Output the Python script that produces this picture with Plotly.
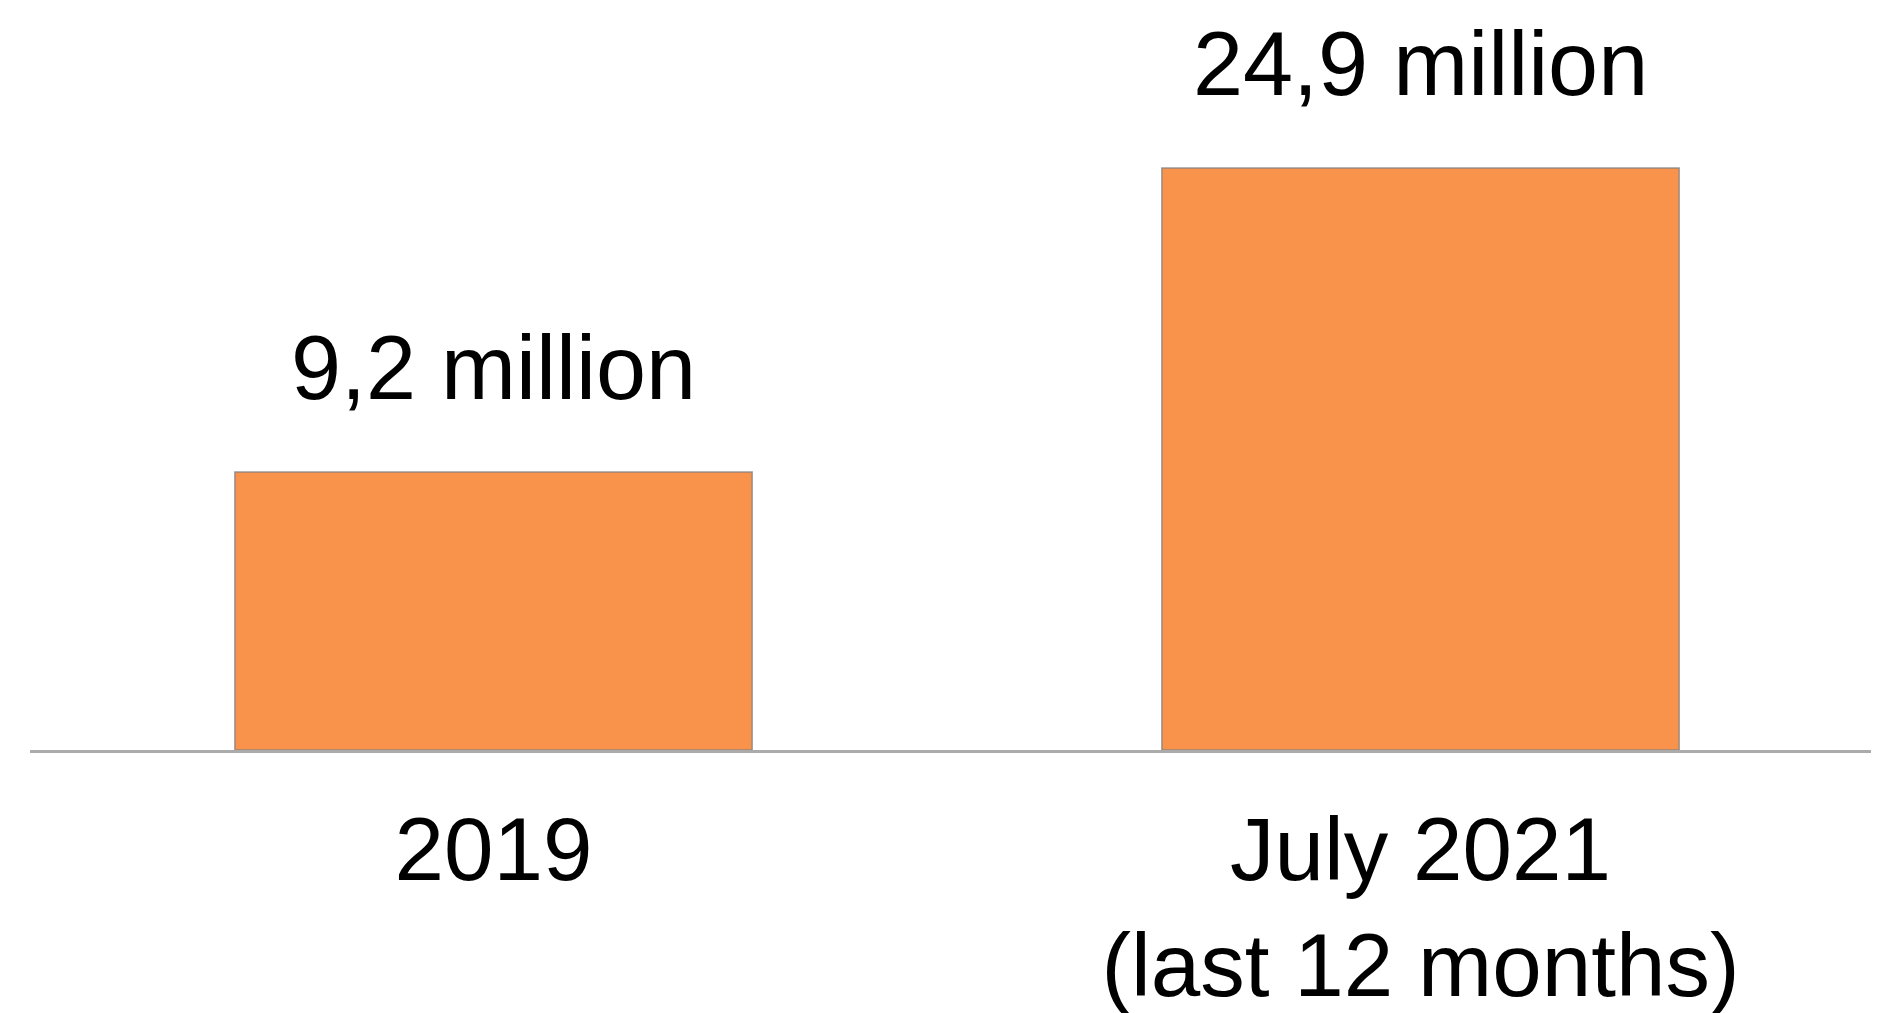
import plotly.graph_objects as go

categories = ["2019", "July 2021<br>(last 12 months)"]
values = [9.2, 24.9]
value_labels = ["9,2 million", "24,9 million"]

# page body has an 8px default margin, so the figure is sized to fit the window
Y_MIN = -5.16
Y_MAX = 33.17
FONT = "Liberation Sans, Arial, sans-serif"

fig = go.Figure()
fig.add_trace(go.Bar(
    x=categories,
    y=[v - Y_MIN for v in values],
    base=Y_MIN,
    width=0.558,
    marker=dict(color="#F9924B", line=dict(color="rgba(130,130,130,0.8)", width=1.5)),
    hoverinfo="skip",
))

for i, (v, t) in enumerate(zip(values, value_labels)):
    fig.add_annotation(
        x=i, y=v, text=t, showarrow=False,
        xref="x", yref="y",
        xanchor="center", yanchor="bottom", yshift=52,
        font=dict(family=FONT, size=90, color="black"),
    )

fig.update_layout(
    width=1871, height=1005,
    margin=dict(l=22, r=0, t=0, b=263, autoexpand=False),
    paper_bgcolor="white", plot_bgcolor="white",
    showlegend=False,
    xaxis=dict(
        type="category",
        automargin=False,
        range=[-0.5, 1.4946],
        showline=True, linecolor="#ABABAB", linewidth=3,
        showgrid=False, ticks="",
        ticklabelstandoff=20,
        tickfont=dict(family=FONT, size=89, color="black"),
    ),
    yaxis=dict(range=[Y_MIN, Y_MAX], visible=False, showgrid=False, zeroline=False, automargin=False),
)

fig.write_html("out.html")
